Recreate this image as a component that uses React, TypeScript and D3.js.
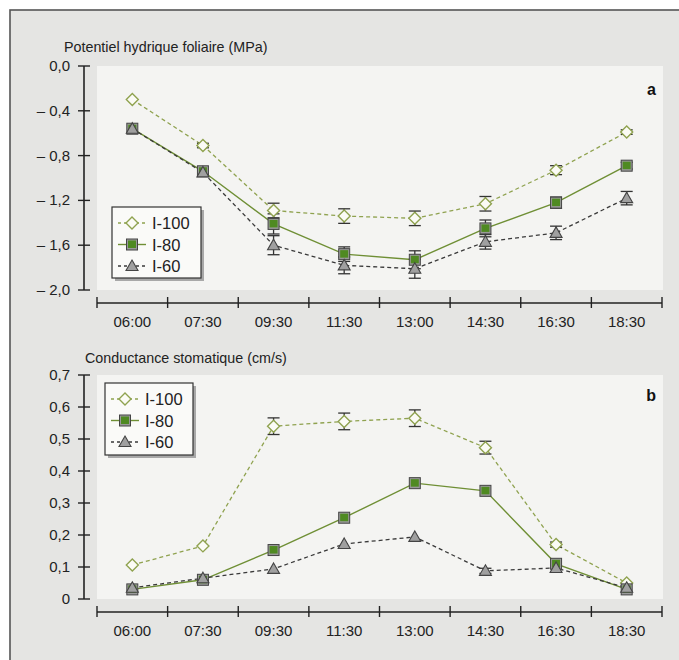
import React from "react";
import * as d3 from "d3";

// heures de mesure
const times = ["06:00", "07:30", "09:30", "11:30", "13:00", "14:30", "16:30", "18:30"];

// potentiel hydrique foliaire (MPa)
const psiI100 = [-0.3, -0.71, -1.29, -1.34, -1.36, -1.23, -0.93, -0.59];
const psiI80 = [-0.56, -0.94, -1.41, -1.68, -1.73, -1.45, -1.22, -0.89];
const psiI60 = [-0.56, -0.95, -1.6, -1.78, -1.81, -1.57, -1.49, -1.18];
const psiErrI100 = [0, 0.02, 0.065, 0.065, 0.065, 0.065, 0.04, 0.02];
const psiErrI80 = [0, 0, 0.09, 0.065, 0.08, 0.075, 0.05, 0.03];
const psiErrI60 = [0, 0, 0.085, 0.075, 0.085, 0.065, 0.06, 0.06];
const psiTicks = [0, -0.4, -0.8, -1.2, -1.6, -2.0];
const psiTickLabels = ["0,0", "– 0,4", "– 0,8", "– 1,2", "– 1,6", "– 2,0"];

// conductance stomatique (cm/s)
const gsI100 = [0.106, 0.166, 0.54, 0.555, 0.565, 0.473, 0.17, 0.05];
const gsI80 = [0.03, 0.06, 0.153, 0.254, 0.362, 0.338, 0.11, 0.03];
const gsI60 = [0.035, 0.065, 0.094, 0.172, 0.194, 0.088, 0.097, 0.035];
const gsErrI100 = [0, 0, 0.026, 0.026, 0.026, 0.02, 0.008, 0];
const gsErrI80 = [0, 0, 0, 0, 0, 0, 0, 0];
const gsErrI60 = [0, 0, 0, 0, 0, 0.008, 0, 0];
const gsTicks = [0, 0.1, 0.2, 0.3, 0.4, 0.5, 0.6, 0.7];
const gsTickLabels = ["0", "0,1", "0,2", "0,3", "0,4", "0,5", "0,6", "0,7"];

const seriesNames = ["I-100", "I-80", "I-60"];

const FONT = "Liberation Sans, Arial, sans-serif";
const GREEN_LIGHT = "#8fa24f";
const GREEN = "#6f8f35";
const DARK = "#3a3a3a";

type Style = { stroke: string; dash: string; width: number; kind: string };
const styles: Style[] = [
  { stroke: GREEN_LIGHT, dash: "4,3", width: 1.3, kind: "diamond" },
  { stroke: GREEN, dash: "", width: 1.4, kind: "square" },
  { stroke: DARK, dash: "4,3", width: 1.3, kind: "triangle" },
];

const Marker = ({ kind, x, y }: { kind: string; x: number; y: number }) => {
  if (kind === "diamond") {
    const r = 6;
    return (
      <path
        d={`M${x},${y - r}L${x + r},${y}L${x},${y + r}L${x - r},${y}Z`}
        fill="#fbfbf5"
        stroke={GREEN_LIGHT}
        strokeWidth={1.4}
      />
    );
  }
  if (kind === "square") {
    return (
      <g>
        <rect x={x - 5.5} y={y - 5.5} width={11} height={11} fill="#9a9a9a" stroke="#444" strokeWidth={1} />
        <rect x={x - 4} y={y - 4} width={8} height={7.5} fill="#4f8a22" />
      </g>
    );
  }
  const r = 6;
  return (
    <path
      d={`M${x},${y - r}L${x + r},${y + r * 0.75}L${x - r},${y + r * 0.75}Z`}
      fill="#a0a0a0"
      stroke="#444"
      strokeWidth={1.1}
    />
  );
};

type PanelProps = {
  top: number;
  bottom: number;
  axisY: number;
  domain: [number, number];
  ticks: number[];
  tickLabels: string[];
  data: number[][];
  errs: number[][];
  title: string;
  titleX: number;
  titleY: number;
  letter: string;
  letterY: number;
  legend: { x: number; y: number; w: number; h: number };
};

const Panel = (p: PanelProps) => {
  const x = d3.scaleBand<string>().domain(times).range([97, 662]);
  const y = d3.scaleLinear().domain(p.domain).range([p.bottom, p.top]);
  const cx = (t: string) => (x(t) as number) + x.bandwidth() / 2;
  const line = d3
    .line<number>()
    .x((_, i) => cx(times[i]))
    .y((v) => y(v));
  const axisX = 84;
  const bounds = x.range();
  const boundaries = times.map((t) => x(t) as number).concat([bounds[1]]);

  return (
    <g fontFamily={FONT}>
      <rect x={97} y={p.top} width={566} height={p.bottom - p.top} fill="#f4f4f2" />
      <text x={p.titleX} y={p.titleY} fontSize={14.3} fill="#222">
        {p.title}
      </text>
      {/* axe Y */}
      <line x1={axisX} x2={axisX} y1={y(p.domain[1])} y2={y(p.domain[0])} stroke="#222" strokeWidth={1.6} />
      {p.ticks.map((t, i) => (
        <g key={i}>
          <line x1={axisX - 6} x2={axisX + 6} y1={y(t)} y2={y(t)} stroke="#222" strokeWidth={1.4} />
          <text x={axisX - 14} y={y(t) + 5} fontSize={15} textAnchor="end" fill="#222">
            {p.tickLabels[i]}
          </text>
        </g>
      ))}
      {/* axe X */}
      <line x1={bounds[0]} x2={bounds[1]} y1={p.axisY} y2={p.axisY} stroke="#222" strokeWidth={1.6} />
      {boundaries.map((b, i) => (
        <line key={i} x1={b} x2={b} y1={p.axisY - 6} y2={p.axisY + 5} stroke="#222" strokeWidth={1.4} />
      ))}
      {times.map((t) => (
        <text key={t} x={cx(t)} y={p.axisY + 24} fontSize={15} textAnchor="middle" fill="#222">
          {t}
        </text>
      ))}
      <text x={656} y={p.letterY} fontSize={16} fontWeight="bold" textAnchor="end" fill="#111">
        {p.letter}
      </text>
      {/* lignes */}
      {p.data.map((vals, s) => (
        <path
          key={s}
          d={line(vals) as string}
          fill="none"
          stroke={styles[s].stroke}
          strokeWidth={styles[s].width}
          strokeDasharray={styles[s].dash}
        />
      ))}
      {/* barres d'erreur */}
      {p.data.map((vals, s) =>
        vals.map((v, i) => {
          const e = p.errs[s][i];
          if (!e) return null;
          const px = cx(times[i]);
          return (
            <g key={`${s}-${i}`} stroke="#333" strokeWidth={1.3}>
              <line x1={px} x2={px} y1={y(v - e)} y2={y(v + e)} />
              <line x1={px - 6} x2={px + 6} y1={y(v - e)} y2={y(v - e)} />
              <line x1={px - 6} x2={px + 6} y1={y(v + e)} y2={y(v + e)} />
            </g>
          );
        })
      )}
      {/* marqueurs */}
      {p.data.map((vals, s) =>
        vals.map((v, i) => <Marker key={`${s}-${i}`} kind={styles[s].kind} x={cx(times[i])} y={y(v)} />)
      )}
      {/* légende */}
      <rect x={p.legend.x + 3} y={p.legend.y + 3} width={p.legend.w} height={p.legend.h} fill="#a8a8a8" />
      <rect
        x={p.legend.x}
        y={p.legend.y}
        width={p.legend.w}
        height={p.legend.h}
        fill="#fafaf8"
        stroke="#333"
        strokeWidth={1.2}
      />
      {seriesNames.map((name, s) => {
        const ly = p.legend.y + 16 + s * 21.5;
        const lx = p.legend.x + 20;
        return (
          <g key={name}>
            <line
              x1={lx - 14}
              x2={lx + 14}
              y1={ly}
              y2={ly}
              stroke={styles[s].stroke}
              strokeWidth={styles[s].width}
              strokeDasharray={styles[s].dash ? "3,3" : ""}
            />
            <Marker kind={styles[s].kind} x={lx} y={ly} />
            <text x={lx + 20} y={ly + 6} fontSize={16.5} fill="#222">
              {name}
            </text>
          </g>
        );
      })}
    </g>
  );
};

export default function App() {
  return (
    <svg width={679} height={660} style={{ display: "block", position: "absolute", left: 0, top: 0 }}>
      <rect x={0} y={0} width={679} height={660} fill="#ffffff" />
      <rect x={10} y={10} width={680} height={660} fill="#e5e5e3" stroke="#555" strokeWidth={1.6} />
      <Panel
        top={66}
        bottom={290}
        axisY={303}
        domain={[-2, 0]}
        ticks={psiTicks}
        tickLabels={psiTickLabels}
        data={[psiI100, psiI80, psiI60]}
        errs={[psiErrI100, psiErrI80, psiErrI60]}
        title="Potentiel hydrique foliaire (MPa)"
        titleX={64}
        titleY={52}
        letter="a"
        letterY={95}
        legend={{ x: 112, y: 207, w: 89, h: 71 }}
      />
      <Panel
        top={375}
        bottom={599}
        axisY={612}
        domain={[0, 0.7]}
        ticks={gsTicks}
        tickLabels={gsTickLabels}
        data={[gsI100, gsI80, gsI60]}
        errs={[gsErrI100, gsErrI80, gsErrI60]}
        title="Conductance stomatique (cm/s)"
        titleX={85}
        titleY={363}
        letter="b"
        letterY={401}
        legend={{ x: 105, y: 383, w: 88, h: 72 }}
      />
    </svg>
  );
}
